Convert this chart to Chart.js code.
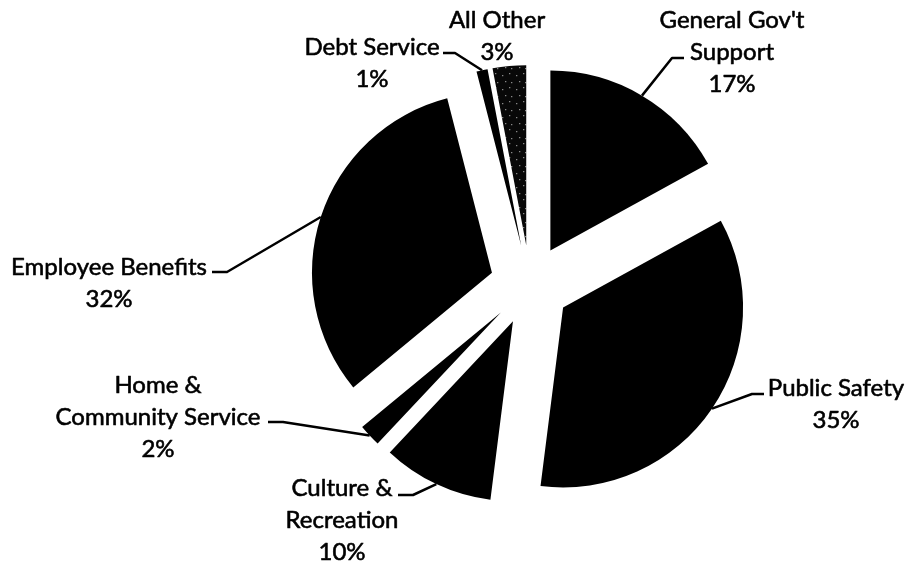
<!DOCTYPE html>
<html>
<head>
<meta charset="utf-8">
<script src="https://cdn.jsdelivr.net/npm/chart.js@4.4.1/dist/chart.umd.min.js"></script>
<style>
  html, body { margin: 0; padding: 0; background: #fff; }
  #wrap { width: 908px; height: 565px; position: relative; }
</style>
</head>
<body>
<div id="wrap"><canvas id="pie"></canvas></div>
<script>
// Budget shares, clockwise from 12 o'clock
const categories = ['General Gov\'t Support', 'Public Safety', 'Culture & Recreation',
  'Home & Community Service', 'Employee Benefits', 'Debt Service', 'All Other'];
const shares = [17, 35, 10, 2, 32, 1, 3];
const labelLines = [
  ['General Gov\'t', 'Support', '17%'],
  ['Public Safety', '35%'],
  ['Culture &', 'Recreation', '10%'],
  ['Home &', 'Community Service', '2%'],
  ['Employee Benefits', '32%'],
  ['Debt Service', '1%'],
  ['All Other', '3%']
];

const EXPLODE = 40;       // px each slice is pulled out
const LINE_H = 32;
const FONT = '24px Lato, "Open Sans", sans-serif';

// label layout: first text line centre, and leader elbow (null = no leader)
const LABEL_POS = [
  { x: 732, y: 20, elbow: [[684, 58], [672, 58]] },
  { x: 836, y: 388, elbow: [[764, 394], [752, 394]] },
  { x: 342, y: 488, elbow: [[398, 495], [413, 495]] },
  { x: 158, y: 385, elbow: [[268, 422], [283, 422]] },
  { x: 109, y: 267, elbow: [[212, 272], [227, 272]] },
  { x: 372, y: 47, elbow: [[443, 53], [455, 53]] },
  { x: 497, y: 20, elbow: null }
];

// speckled fill for the "All Other" slice
function speckle() {
  const c = document.createElement('canvas');
  c.width = 14; c.height = 14;
  const g = c.getContext('2d');
  g.fillStyle = '#080808';
  g.fillRect(0, 0, 14, 14);
  g.fillStyle = '#ddd';
  [[2, 3], [9, 1], [5, 9], [11, 10]].forEach(p => g.fillRect(p[0], p[1], 1, 1));
  return g.createPattern(c, 'repeat');
}

const colors = ['#000', '#000', '#000', '#000', '#000', '#000', speckle()];

// draw slices pulled out along their mid angle
const explodePlugin = {
  id: 'explode',
  beforeDatasetDraw(chart, args) {
    const ctx = chart.ctx;
    args.meta.data.forEach(arc => {
      const mid = (arc.startAngle + arc.endAngle) / 2;
      ctx.save();
      ctx.translate(Math.cos(mid) * EXPLODE, Math.sin(mid) * EXPLODE);
      arc.draw(ctx);
      ctx.restore();
    });
    return false;
  }
};

const labelPlugin = {
  id: 'pieLabels',
  afterDatasetsDraw(chart) {
    const ctx = chart.ctx;
    const arcs = chart.getDatasetMeta(0).data;
    ctx.save();
    arcs.forEach((arc, i) => {
      const pos = LABEL_POS[i];
      if (pos.elbow) {
        const mid = (arc.startAngle + arc.endAngle) / 2;
        const r = arc.outerRadius + EXPLODE;
        ctx.strokeStyle = '#000';
        ctx.lineWidth = 2.5;
        ctx.lineJoin = 'round';
        ctx.beginPath();
        ctx.moveTo(pos.elbow[0][0], pos.elbow[0][1]);
        ctx.lineTo(pos.elbow[1][0], pos.elbow[1][1]);
        ctx.lineTo(arc.x + Math.cos(mid) * r, arc.y + Math.sin(mid) * r);
        ctx.stroke();
      }
      ctx.fillStyle = '#000';
      ctx.strokeStyle = '#000';
      ctx.lineWidth = 0.6;
      ctx.font = FONT;
      ctx.textAlign = 'center';
      ctx.textBaseline = 'middle';
      labelLines[i].forEach((t, k) => {
        ctx.fillText(t, pos.x, pos.y + k * LINE_H);
        ctx.strokeText(t, pos.x, pos.y + k * LINE_H);
      });
    });
    ctx.restore();
  }
};

new Chart(document.getElementById('pie'), {
  type: 'pie',
  data: {
    labels: categories,
    datasets: [{
      data: shares,
      backgroundColor: colors,
      borderWidth: 0,
      hoverOffset: 0,
      offset: 0
    }]
  },
  options: {
    responsive: true,
    maintainAspectRatio: false,
    animation: false,
    layout: { padding: { left: 350, right: 198, top: 105, bottom: 100 } },
    plugins: {
      legend: { display: false },
      tooltip: { enabled: false }
    }
  },
  plugins: [explodePlugin, labelPlugin]
});
</script>
</body>
</html>
